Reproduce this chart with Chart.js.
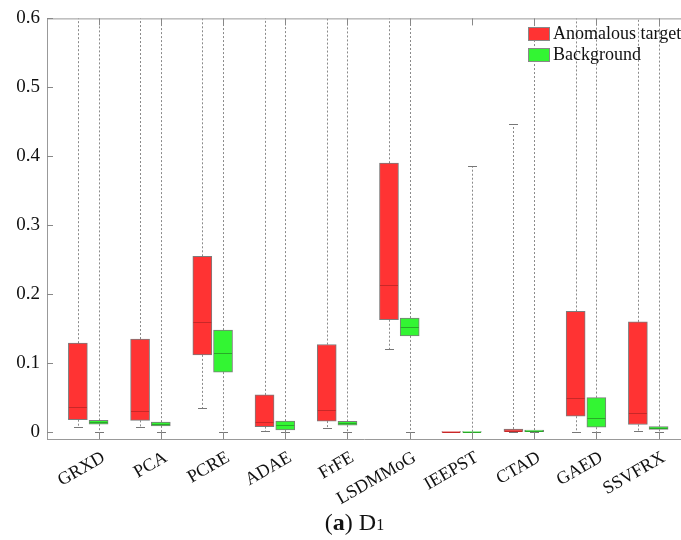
<!DOCTYPE html>
<html><head><meta charset="utf-8">
<script src="https://cdn.jsdelivr.net/npm/chart.js@4"></script>
<style>
html,body{margin:0;padding:0;background:#fff;width:681px;height:540px;overflow:hidden}
#wrap{position:relative;width:681px;height:540px}
#cap{position:absolute;left:14px;width:681px;top:509px;text-align:center;font-family:"Liberation Serif",serif;font-size:24px;line-height:26px;color:#111}
#cap .s{font-size:16px}
</style></head><body>
<div id="wrap"><canvas id="c" width="681" height="540"></canvas>
<div id="cap">(<b>a</b>) D<span class="s">1</span></div></div>
<script>
const categories = ['GRXD','PCA','PCRE','ADAE','FrFE','LSDMMoG','IEEPST','CTAD','GAED','SSVFRX'];
const seriesNames = ['Anomalous target','Background'];
// Anomalous target (red)
const targetLow    = [0.008, 0.007, 0.035, 0.001, 0.006, 0.120, 0,      0.0005, 0.0005, 0.0015];
const targetQ1     = [0.018, 0.017, 0.112, 0.008, 0.016, 0.163, 0,      0.001,  0.023,  0.011];
const targetMedian = [0.036, 0.031, 0.159, 0.015, 0.032, 0.214, 0.0003, 0.002,  0.050,  0.028];
const targetQ3     = [0.129, 0.135, 0.255, 0.054, 0.127, 0.390, 0.0006, 0.0045, 0.175,  0.160];
const targetHigh   = [1,     1,     1,     1,     1,     1,     0,      0.447,  1,      1];
// Background (green)
const bgLow    = [0,      0,      0,     0,     0,      0,      0,      0,      0,     0];
const bgQ1     = [0.0115, 0.009,  0.087, 0.003, 0.010,  0.1395, 0,      0.0005, 0.007, 0.004];
const bgMedian = [0.014,  0.012,  0.115, 0.010, 0.013,  0.153,  0.0003, 0.0015, 0.020, 0.0065];
const bgQ3     = [0.017,  0.0145, 0.148, 0.016, 0.0155, 0.1655, 0.0006, 0.003,  0.050, 0.008];
const bgHigh   = [1,      1,      1,     1,     1,      1,      0.386,  1,      1,     1];
const yTicks = [0, 0.1, 0.2, 0.3, 0.4, 0.5, 0.6];

const OFF = [-0.333, 0];
const FILL = ['rgb(255,51,51)','rgb(51,245,51)'];
const MED = ['rgb(200,40,40)','rgb(40,170,40)'];
const series = [
  {low:targetLow,q1:targetQ1,med:targetMedian,q3:targetQ3,high:targetHigh},
  {low:bgLow,q1:bgQ1,med:bgMedian,q3:bgQ3,high:bgHigh}
];
const FONT = '"Liberation Serif", "Times New Roman", serif';

const boxPlugin = {
  id:'boxextras',
  beforeDatasetsDraw(chart){
    const {ctx, chartArea:a, scales:{x,y}} = chart;
    ctx.save();
    ctx.beginPath(); ctx.rect(a.left,a.top,a.right-a.left,a.bottom-a.top); ctx.clip();
    series.forEach((s,k)=>{
      categories.forEach((c,i)=>{
        const px = Math.round(x.getPixelForValue(i+1+OFF[k]))+0.5;
        ctx.strokeStyle='#8a8a8a'; ctx.lineWidth=1; ctx.setLineDash([2,2]);
        if (s.high[i] > s.q3[i]) { ctx.beginPath(); ctx.moveTo(px,y.getPixelForValue(s.q3[i])); ctx.lineTo(px,y.getPixelForValue(s.high[i])); ctx.stroke(); }
        if (s.low[i] < s.q1[i]) { ctx.beginPath(); ctx.moveTo(px,y.getPixelForValue(s.q1[i])); ctx.lineTo(px,y.getPixelForValue(s.low[i])); ctx.stroke(); }
        ctx.setLineDash([]); ctx.strokeStyle='#777';
        [s.low[i], s.high[i]].forEach(v=>{
          const py = Math.round(y.getPixelForValue(v))+0.5;
          ctx.beginPath(); ctx.moveTo(px-4.5,py); ctx.lineTo(px+4.5,py); ctx.stroke();
        });
      });
    });
    ctx.restore();
  },
  afterDatasetsDraw(chart){
    const {ctx, chartArea:a, scales:{x,y}} = chart;
    ctx.save();
    series.forEach((s,k)=>{
      categories.forEach((c,i)=>{
        const px = x.getPixelForValue(i+1+OFF[k]);
        const py = Math.round(y.getPixelForValue(s.med[i]))+0.5;
        ctx.strokeStyle=MED[k]; ctx.lineWidth=1;
        ctx.beginPath(); ctx.moveTo(px-9,py); ctx.lineTo(px+9,py); ctx.stroke();
      });
    });
    // axes frame and inward ticks
    ctx.strokeStyle='#999'; ctx.lineWidth=1;
    ctx.beginPath(); ctx.moveTo(a.left, a.top+0.5); ctx.lineTo(a.right, a.top+0.5); ctx.stroke();
    ctx.strokeStyle='#888';
    categories.forEach((c,i)=>{
      const px = Math.round(x.getPixelForValue(i+1))+0.5;
      ctx.beginPath(); ctx.moveTo(px,a.bottom); ctx.lineTo(px,a.bottom-7); ctx.stroke();
      ctx.beginPath(); ctx.moveTo(px,a.top); ctx.lineTo(px,a.top+7); ctx.stroke();
    });
    yTicks.forEach(v=>{
      const py = Math.round(y.getPixelForValue(v))+0.5;
      ctx.beginPath(); ctx.moveTo(a.left,py); ctx.lineTo(a.left+6,py); ctx.stroke();
    });
    // legend
    ctx.font = '18px '+FONT; ctx.textBaseline='middle'; ctx.textAlign='left';
    seriesNames.forEach((n,k)=>{
      const top = 27 + k*21;
      ctx.fillStyle = FILL[k]; ctx.fillRect(528.5, top+0.5, 21, 13);
      ctx.strokeStyle='#888'; ctx.strokeRect(528.5, top+0.5, 21, 13);
      ctx.fillStyle='#111'; ctx.fillText(n, 553, top+7);
    });
    ctx.restore();
  }
};

const datasets = series.map((s,k)=>({
  label: seriesNames[k],
  data: categories.map((c,i)=>({x:i+1+OFF[k], y:[s.q1[i], s.q3[i]]})),
  backgroundColor: FILL[k],
  borderColor: 'rgba(110,110,110,0.9)',
  borderWidth: 1,
  borderSkipped: false,
  barThickness: 19,
  grouped: false
}));

new Chart(document.getElementById('c'), {
  type:'bar',
  data:{datasets},
  options:{
    responsive:false, animation:false, devicePixelRatio:1,
    layout:{padding:{top:16,right:0,left:0,bottom:0}},
    plugins:{legend:{display:false}, tooltip:{enabled:false}},
    scales:{
      x:{type:'linear', min:0.171, max:10.36, offset:false,
        grid:{display:false, drawTicks:false}, border:{display:true,color:'#999'},
        afterBuildTicks:s=>{s.ticks = categories.map((c,i)=>({value:i+1}));},
        afterFit:s=>{s.height=101;},
        ticks:{autoSkip:false, minRotation:30, maxRotation:30, padding:8, labelOffset:5, color:'#111',
          font:{family:FONT,size:18}, callback:(v)=>categories[Math.round(v)-1]}
      },
      y:{min:-0.01, max:0.6,
        grid:{display:false, drawTicks:false}, border:{display:true,color:'#999'},
        afterBuildTicks:s=>{s.ticks = yTicks.map(v=>({value:v}));},
        afterFit:s=>{s.width=47;},
        ticks:{padding:7, color:'#111', font:{family:FONT,size:19}, callback:(v)=>String(+v.toFixed(1))}
      }
    }
  },
  plugins:[boxPlugin]
});
</script>
</body></html>
